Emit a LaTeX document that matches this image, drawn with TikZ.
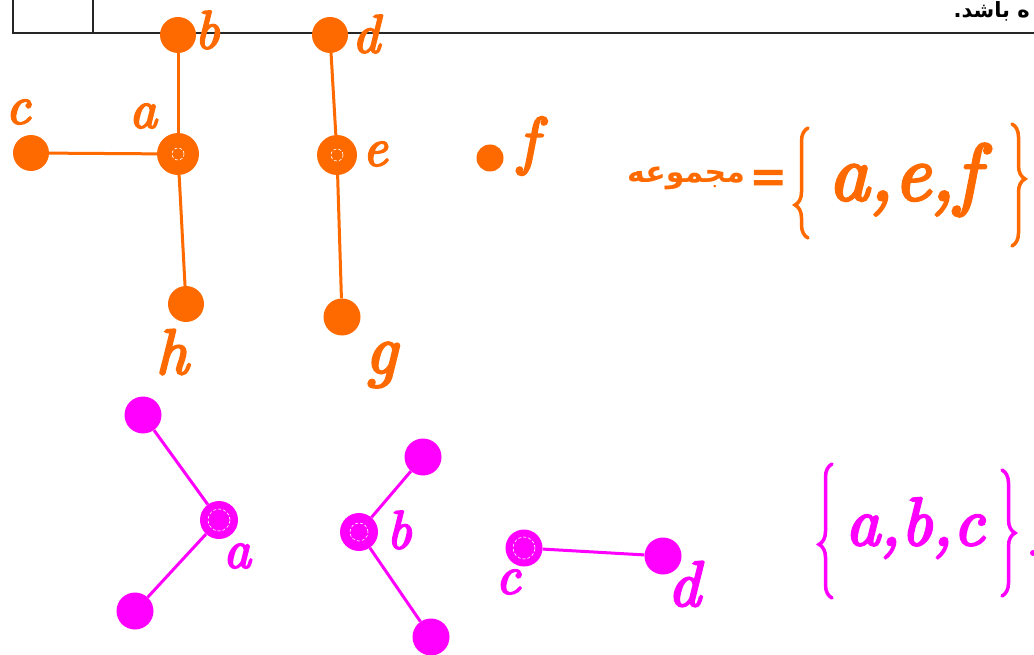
\documentclass[tikz,border=0pt]{standalone}
\usepackage{fontspec}
\usepackage{tikz}
\usetikzlibrary{decorations.pathreplacing}
\TeXXeTstate=1
\newfontfamily\arabicfont[Script=Arabic]{DejaVu Sans}
\newfontfamily\handfont[Extension=.otf,FakeBold=3.5]{lmroman10-italic}
\definecolor{hor}{HTML}{FF6A00}
\definecolor{hmg}{HTML}{FF00FF}
\tikzset{
  odot/.style={
    circle,
    inner sep=0,
    fill=hor,
    minimum size=36pt
  },
  mdot/.style={
    circle,
    inner sep=0,
    fill=hmg,
    minimum size=37pt
  },
  ring/.style={
    draw=white,
    densely dashed,
    line width=0.6pt
  },
  oedge/.style={draw=hor, line width=3pt},
  medge/.style={draw=hmg, line width=3pt},
  olab/.style={text=hor, inner sep=0, font=\fontsize{54}{54}\selectfont\handfont},
  mlab/.style={text=hmg, inner sep=0, font=\fontsize{54}{54}\selectfont\handfont},
  hbrace/.style={
    decorate,
    decoration={brace, amplitude=13pt, aspect=0.3},
    line width=3.5pt,
    line cap=round
  }
}

\begin{document}
\begin{tikzpicture}[x=1pt, y=-1pt]
        \useasboundingbox (0,0) rectangle (1034,655);
        % table edge
        \draw[line width=1.4pt, black!85] (13,0) -- (13,33) -- (1034,33);
        \draw[line width=1.4pt, black!85] (93,0) -- (93,33);
        \node[anchor=base east, inner sep=0] (tabtext) at (1030,18)
          {\fontsize{21}{21}\selectfont\arabicfont\bfseries\beginR ه باشد.\endR};
        % first graph
        \node[odot] (b) at (178,35) {};
        \node[odot] (d) at (330,35) {};
        \node[odot, minimum size=42pt] (a) at (178,154) {};
        \node[odot] (c) at (31,153) {};
        \node[odot, minimum size=40pt] (e) at (337,155) {};
        \node[odot, minimum size=27pt] (f) at (490,158) {};
        \node[odot] (h) at (186,304) {};
        \node[odot, minimum size=37pt] (g) at (342,317) {};
        \draw[oedge] (b) -- (a);
        \draw[oedge] (a) -- (h);
        \draw[oedge] (c) -- (a);
        \draw[oedge] (d) -- (e);
        \draw[oedge] (e) -- (g);
        \draw[ring] (a) circle (6pt);
        \draw[ring] (e) circle (6pt);
        \node[olab] (lb) at (207,30) {b};
        \node[olab] (ld) at (366,34) {d};
        \node[olab] (lc) at (18,112) {c};
        \node[olab] (la) at (143,116) {a};
        \node[olab] (le) at (375,154) {e};
        \node[olab, font=\fontsize{64}{64}\selectfont\handfont] (lf) at (528,146) {f};
        \node[olab, font=\fontsize{64}{64}\selectfont\handfont] (lh) at (172,352) {h};
        \node[olab, font=\fontsize{70}{70}\selectfont\handfont] (lg) at (381,365) {g};
        % first set
        \node[text=hor, inner sep=0] (word) at (686,178)
          {\fontsize{30}{30}\selectfont\arabicfont\bfseries\beginR مجموعه\endR};
        \node[text=hor, inner sep=0] (eq) at (769,181)
          {\fontsize{46}{46}\selectfont\arabicfont\bfseries =};
        \node[text=hor, inner sep=0, anchor=west] (set1) at (828,180)
          {\fontsize{80}{80}\selectfont\handfont a,e,f};
        \coordinate (lb1t) at (808,128);
        \coordinate (lb1b) at (808,238);
        \coordinate (rb1t) at (1012,124);
        \coordinate (rb1b) at (1012,246);
        \draw[hbrace, hor] (lb1b) -- (lb1t);
        \draw[hbrace, hor, decoration={aspect=0.45}] (rb1t) -- (rb1b);
        % second graph
        \node[mdot] (p1) at (143,415) {};
        \node[mdot, minimum size=38pt] (pa) at (219,520) {};
        \node[mdot] (p2) at (135,611) {};
        \node[mdot, minimum size=38pt] (pb) at (359,532) {};
        \node[mdot] (p3) at (423,457) {};
        \node[mdot] (p4) at (431,637) {};
        \node[mdot] (pc) at (524,548) {};
        \node[mdot] (pd) at (663,556) {};
        \draw[medge] (p1) -- (pa);
        \draw[medge] (pa) -- (p2);
        \draw[medge] (pb) -- (p3);
        \draw[medge] (pb) -- (p4);
        \draw[medge] (pc) -- (pd);
        \draw[ring] (pa) circle (11pt);
        \draw[ring] (pb) circle (9pt);
        \draw[ring] (pc) circle (11pt);
        \node[mlab] (qa) at (237,556) {a};
        \node[mlab] (qb) at (399,530) {b};
        \node[mlab] (qc) at (508,582) {c};
        \node[mlab, font=\fontsize{64}{64}\selectfont\handfont] (qd) at (684,584) {d};
        % second set
        \node[text=hmg, inner sep=0, anchor=west] (set2) at (845,528)
          {\fontsize{68}{68}\selectfont\handfont a,b,c};
        \coordinate (lb2t) at (832,464);
        \coordinate (lb2b) at (832,598);
        \coordinate (rb2t) at (1002,470);
        \coordinate (rb2b) at (1002,596);
        \draw[hbrace, hmg, decoration={aspect=0.4}] (lb2b) -- (lb2t);
        \draw[hbrace, hmg, decoration={aspect=0.5}] (rb2t) -- (rb2b);
        \node[circle, fill=hmg, inner sep=0, minimum size=6pt] (dot) at (1033,553) {};
    \end{tikzpicture}
\end{document}
